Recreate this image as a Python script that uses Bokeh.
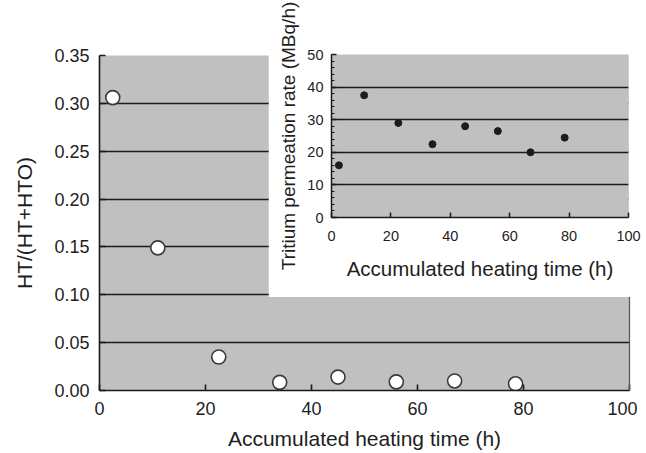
from bokeh.plotting import figure
from bokeh.models import Range1d, FixedTicker, LinearAxis, NumeralTickFormatter
from bokeh.embed import file_html
from bokeh.resources import INLINE

# ---- data ----
hours = [2.5, 11, 22.5, 34, 45, 56, 67, 78.5]
ht_ratio = [0.306, 0.149, 0.035, 0.0085, 0.014, 0.009, 0.010, 0.007]
perm_rate = [16, 37.5, 29, 22.5, 28, 26.5, 20, 24.5]

x_ticks = [0, 20, 40, 60, 80, 100]
main_y_ticks = [0.0, 0.05, 0.10, 0.15, 0.20, 0.25, 0.30, 0.35]
main_grid = [0.05, 0.10, 0.15, 0.20, 0.25, 0.30]
inset_y_ticks = [0, 10, 20, 30, 40, 50]
inset_minor = list(range(0, 51, 2))
inset_grid = [10, 20, 30, 40, 50]

x_title = "Accumulated heating time (h)"
main_y_title = "HT/(HT+HTO)"
inset_y_title = "Tritium permeation rate (MBq/h)"

FONT = "Liberation Sans"
BG = "#c0c0c0"
TXT = "#1e1e1e"
LINE = "#1a1a1a"

# ---- main figure ----
p = figure(frame_width=530, frame_height=335,
           x_range=Range1d(0, 100), y_range=Range1d(0, 0.35),
           output_backend="svg", toolbar_location=None,
           min_border_left=99, min_border_top=55, min_border_right=8,
           min_border_bottom=0)
p.background_fill_color = BG
p.border_fill_color = "white"
p.outline_line_color = None

p.scatter(hours, ht_ratio, size=14, marker="circle", fill_color="white",
          line_color="#3a3a3a", line_width=1.6)

p.xgrid.visible = False
p.ygrid.ticker = FixedTicker(ticks=main_grid)
p.ygrid.grid_line_color = LINE
p.ygrid.grid_line_width = 1.6

xa = p.xaxis[0]
xa.ticker = FixedTicker(ticks=x_ticks)
xa.axis_label = x_title
ya = p.yaxis[0]
ya.ticker = FixedTicker(ticks=main_y_ticks)
ya.formatter = NumeralTickFormatter(format="0.00")
ya.axis_label = main_y_title

for ax in (xa, ya):
    ax.axis_line_color = LINE
    ax.axis_line_width = 1.6
    ax.major_tick_in = 6
    ax.major_tick_out = 0
    ax.major_tick_line_color = LINE
    ax.major_tick_line_width = 1.6
    ax.minor_tick_line_color = None
    ax.major_label_text_font = FONT
    ax.major_label_text_font_size = "18px"
    ax.major_label_text_color = TXT
    ax.axis_label_text_font = FONT
    ax.axis_label_text_font_size = "21px"
    ax.axis_label_text_font_style = "normal"
    ax.axis_label_text_color = TXT
xa.major_label_standoff = 11
xa.axis_label_standoff = 9
ya.major_label_standoff = 10
ya.axis_label_standoff = 15

ra = LinearAxis(ticker=FixedTicker(ticks=[]), axis_line_color="#555555",
                axis_line_width=1.2, major_tick_line_color=None,
                minor_tick_line_color=None)
p.add_layout(ra, "right")

# ---- inset figure (separate root, placed over the main one) ----
q = figure(frame_width=297, frame_height=163,
           x_range=Range1d(0, 100), y_range=Range1d(0, 50),
           output_backend="svg", toolbar_location=None,
           min_border_left=63, min_border_top=54, min_border_right=16,
           min_border_bottom=80,
           styles={"position": "absolute", "left": "268px", "top": "0px"})
q.background_fill_color = BG
q.border_fill_color = "white"
q.outline_line_color = None

q.scatter(hours, perm_rate, size=7, marker="circle", fill_color="#1c1c1c",
          line_color="#1c1c1c")

q.xgrid.visible = False
q.ygrid.ticker = FixedTicker(ticks=inset_grid)
q.ygrid.grid_line_color = LINE
q.ygrid.grid_line_width = 1.5

qx = q.xaxis[0]
qx.ticker = FixedTicker(ticks=x_ticks)
qx.axis_label = x_title
qy = q.yaxis[0]
qy.ticker = FixedTicker(ticks=inset_y_ticks, minor_ticks=inset_minor)
qy.axis_label = inset_y_title
for ax in (qx, qy):
    ax.axis_line_color = LINE
    ax.axis_line_width = 1.5
    ax.major_tick_in = 5
    ax.major_tick_out = 0
    ax.major_tick_line_color = LINE
    ax.major_tick_line_width = 1.5
    ax.major_label_text_font = FONT
    ax.major_label_text_font_size = "14.5px"
    ax.major_label_text_color = TXT
    ax.axis_label_text_font = FONT
    ax.axis_label_text_font_size = "20.5px"
    ax.axis_label_text_font_style = "normal"
    ax.axis_label_text_color = TXT
qy.axis_label_text_font_size = "19px"
qx.minor_tick_line_color = None
qy.minor_tick_in = 3
qy.minor_tick_out = 0
qy.minor_tick_line_color = LINE
qy.minor_tick_line_width = 1
qx.major_label_standoff = 13
qx.axis_label_standoff = 13
qy.major_label_standoff = 8
qy.axis_label_standoff = 5

open("out.html", "w").write(file_html([p, q], INLINE))
